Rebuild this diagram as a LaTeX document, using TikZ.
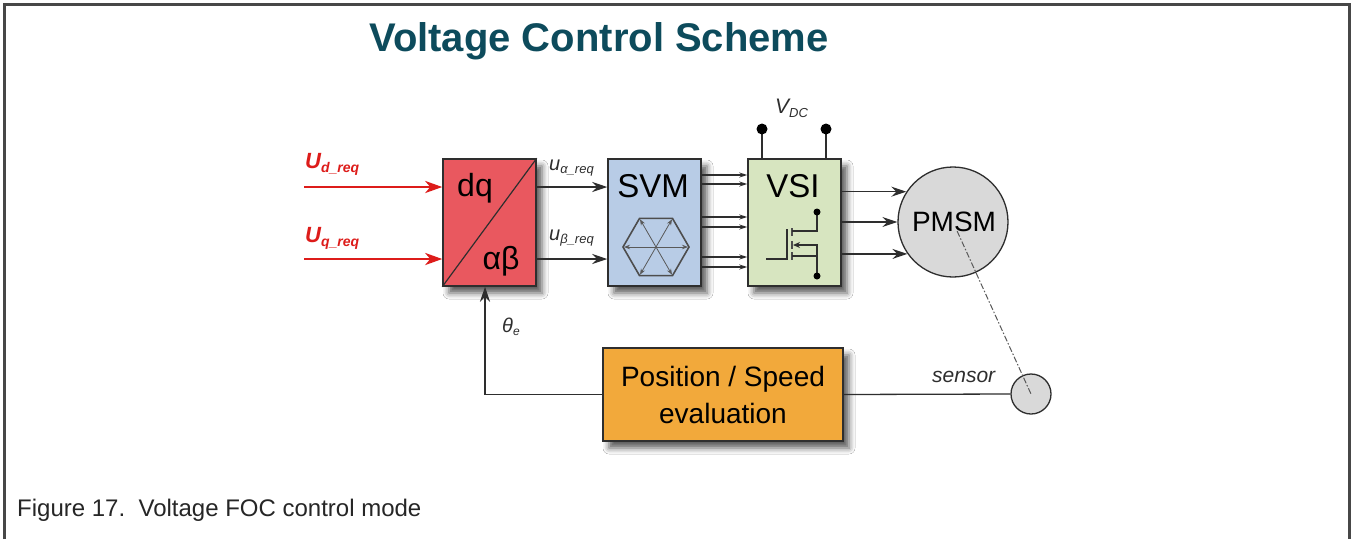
\documentclass[tikz,border=0pt]{standalone}
\usepackage{fontspec}
\setmainfont{Liberation Sans}
\usetikzlibrary{arrows.meta,shadows.blur}
\definecolor{titlec}{HTML}{0D4B5C}
\definecolor{redbox}{HTML}{E9585F}
\definecolor{bluebox}{HTML}{B8CCE6}
\definecolor{greenbox}{HTML}{D7E5C0}
\definecolor{orangebox}{HTML}{F2A93B}
\definecolor{motorc}{HTML}{D9D9D9}
\definecolor{redarr}{HTML}{DD1C1A}
\definecolor{linec}{HTML}{2E2E2E}
\definecolor{framec}{HTML}{474747}
\definecolor{capc}{HTML}{262626}
\begin{document}
\begin{tikzpicture}[x=1pt,y=-1pt,
  fs/.style={font=\fontsize{#1}{#1}\selectfont},
  shad/.style={blur shadow={shadow xshift=6pt, shadow yshift=-7pt, shadow blur radius=6pt, shadow opacity=65}},
  block/.style={draw=linec, line width=1.5pt, minimum width=93pt, minimum height=127pt, inner sep=0pt, shad},
  lbl/.style={inner sep=0pt, anchor=base},
  arr/.style={draw=linec, line width=1.3pt, -{Stealth[length=15pt,width=10pt,inset=5pt]}},
  redarrow/.style={draw=redarr, line width=2.8pt, -{Stealth[length=17pt,width=12pt,inset=5pt]}},
  smallarr/.style={draw=linec, line width=1.1pt, -{Stealth[length=8pt,width=5pt]}},
  conn/.style={draw=linec, line width=1.3pt},
  dot/.style={circle, fill=black, inner sep=0pt, minimum size=11pt},
  sdot/.style={circle, fill=black, inner sep=0pt, minimum size=7pt}
]
\useasboundingbox (0,0) rectangle (1352,539);
\fill[white] (0,0) rectangle (1352,539);
% frame
\draw[framec, line width=3pt] (4,539) -- (4,4) -- (1349,4) -- (1349,539);

% title and caption
\node[lbl, text=titlec, font=\bfseries\fontsize{40}{40}\selectfont] (title) at (599,51) {Voltage Control Scheme};
\node[lbl, anchor=base west, fs=24, text=capc] (caption) at (17,516) {Figure 17.\ \ Voltage FOC control mode};

% blocks
\node[block, fill=redbox] (dq) at (489.5,222.5) {};
\node[block, fill=bluebox] (svm) at (654.5,222.5) {};
\node[block, fill=greenbox] (vsi) at (794.5,222.5) {};
\node[draw=linec, line width=1.3pt, fill=motorc, circle, minimum size=110pt, inner sep=0pt] (pmsm) at (953,222) {};
\node[draw=linec, line width=1.3pt, fill=motorc, circle, minimum size=40pt, inner sep=0pt] (sensor) at (1031,394) {};
\node[draw=linec, line width=1.5pt, fill=orangebox, minimum width=240pt, minimum height=93pt, inner sep=0pt, shad, align=center, font=\fontsize{28}{37}\selectfont] (pos) at (723,394.5) {Position / Speed\\evaluation};

% block texts
\draw[linec, line width=1.2pt] (dq.south west) -- (dq.north east);
\node[lbl, fs=32] (dqt) at (475,196) {dq};
\node[lbl, fs=32] (abt) at (501,269) {αβ};
\node[lbl, fs=33] (svmt) at (653,197) {SVM};
\node[lbl, fs=33] (vsit) at (793,197) {VSI};
\node[lbl, fs=28] (pmsmt) at (954,231) {PMSM};

% hexagon in SVM
\coordinate (hc) at (656,247);
\foreach \a in {0,60,...,300}{
  \draw[draw=gray!70!black, line width=0.8pt, -{Stealth[length=6pt,width=4.5pt]}] (hc) -- ++(\a:32);
}
\draw[draw=linec!85, line width=1.6pt] (hc) ++(0:33) -- ++(120:33) -- ++(180:33) -- ++(240:33) -- ++(300:33) -- ++(0:33) -- cycle;

% MOSFET in VSI
\draw[linec, line width=1.3pt] (766,259) -- (787,259) -- (787,229);
\draw[gray!60!black, line width=2.2pt] (792,228) -- (792,236) (792,241) -- (792,249) (792,252) -- (792,260);
\draw[linec, line width=1.3pt] (792,231) -- (817,231) -- (817,212);
\draw[linec, line width=1.3pt] (792,256) -- (817,256);
\draw[linec, line width=1.3pt, {Stealth[length=7pt,width=6pt]}-] (793,245) -- (817,245) -- (817,276);
\node[sdot] (d1) at (817,212) {};
\node[sdot] (d2) at (817,276) {};

% VDC
\coordinate (vdca) at (762,129);
\coordinate (vdcb) at (826,129);
\draw[conn] (vdca) -- (vdca |- vsi.north);
\draw[conn] (vdcb) -- (vdcb |- vsi.north);
\node[dot] at (vdca) {};
\node[dot] at (vdcb) {};
\node[lbl, anchor=base west, fs=21, text=linec] (vdc) at (775,113) {\itshape V\raisebox{-4pt}{\fontsize{13}{13}\selectfont DC}};

% inputs
\coordinate (ind) at (304,187);
\coordinate (inq) at (304,259);
\draw[redarrow] (ind) -- (ind -| dq.west);
\draw[redarrow] (inq) -- (inq -| dq.west);
\node[lbl, anchor=base west, text=redarr, fs=22] (udl) at (305,168) {\bfseries\itshape U\raisebox{-4pt}{\fontsize{14}{14}\selectfont d\_req}};
\node[lbl, anchor=base west, text=redarr, fs=22] (uql) at (305,242) {\bfseries\itshape U\raisebox{-4pt}{\fontsize{14}{14}\selectfont q\_req}};

% dq -> svm
\draw[arr] (dq.east |- ind) -- (svm.west |- ind);
\draw[arr] (dq.east |- inq) -- (svm.west |- inq);
\node[lbl, anchor=base west, text=linec, fs=20] (ual) at (549,170) {\itshape u\raisebox{-3pt}{\fontsize{13}{13}\selectfont α\_req}};
\node[lbl, anchor=base west, text=linec, fs=20] (ubl) at (549,240) {\itshape u\raisebox{-3pt}{\fontsize{13}{13}\selectfont β\_req}};

% svm -> vsi
\foreach \yy in {175,184,217,227,257,267}{
  \draw[smallarr] (svm.east |- 0,\yy) -- (vsi.west |- 0,\yy);
}

% vsi -> pmsm
\draw[arr] (vsi.east |- pmsm.147) -- (pmsm.147);
\draw[arr] (vsi.east |- pmsm.west) -- (pmsm.west);
\draw[arr] (vsi.east |- pmsm.215) -- (pmsm.215);

% sensor
\draw[gray!70!black, line width=1pt, dash pattern=on 6pt off 2pt on 1.5pt off 2pt, shorten <=10pt] (pmsm.center) -- (sensor.center);
\draw[conn] (pos.east) -- (sensor.west);
\node[lbl, anchor=base west, text=linec, fs=21] (sensl) at (932,382) {\itshape sensor};

% feedback
\coordinate (fb) at (485,394.5);
\draw[conn] (pos.west) -- (fb);
\draw[arr] (fb) -- (fb |- dq.south);
\node[lbl, anchor=base west, text=linec, fs=20] (thl) at (502,332) {\itshape θ\raisebox{-3pt}{\fontsize{12}{12}\selectfont e}};
\end{tikzpicture}
\end{document}
